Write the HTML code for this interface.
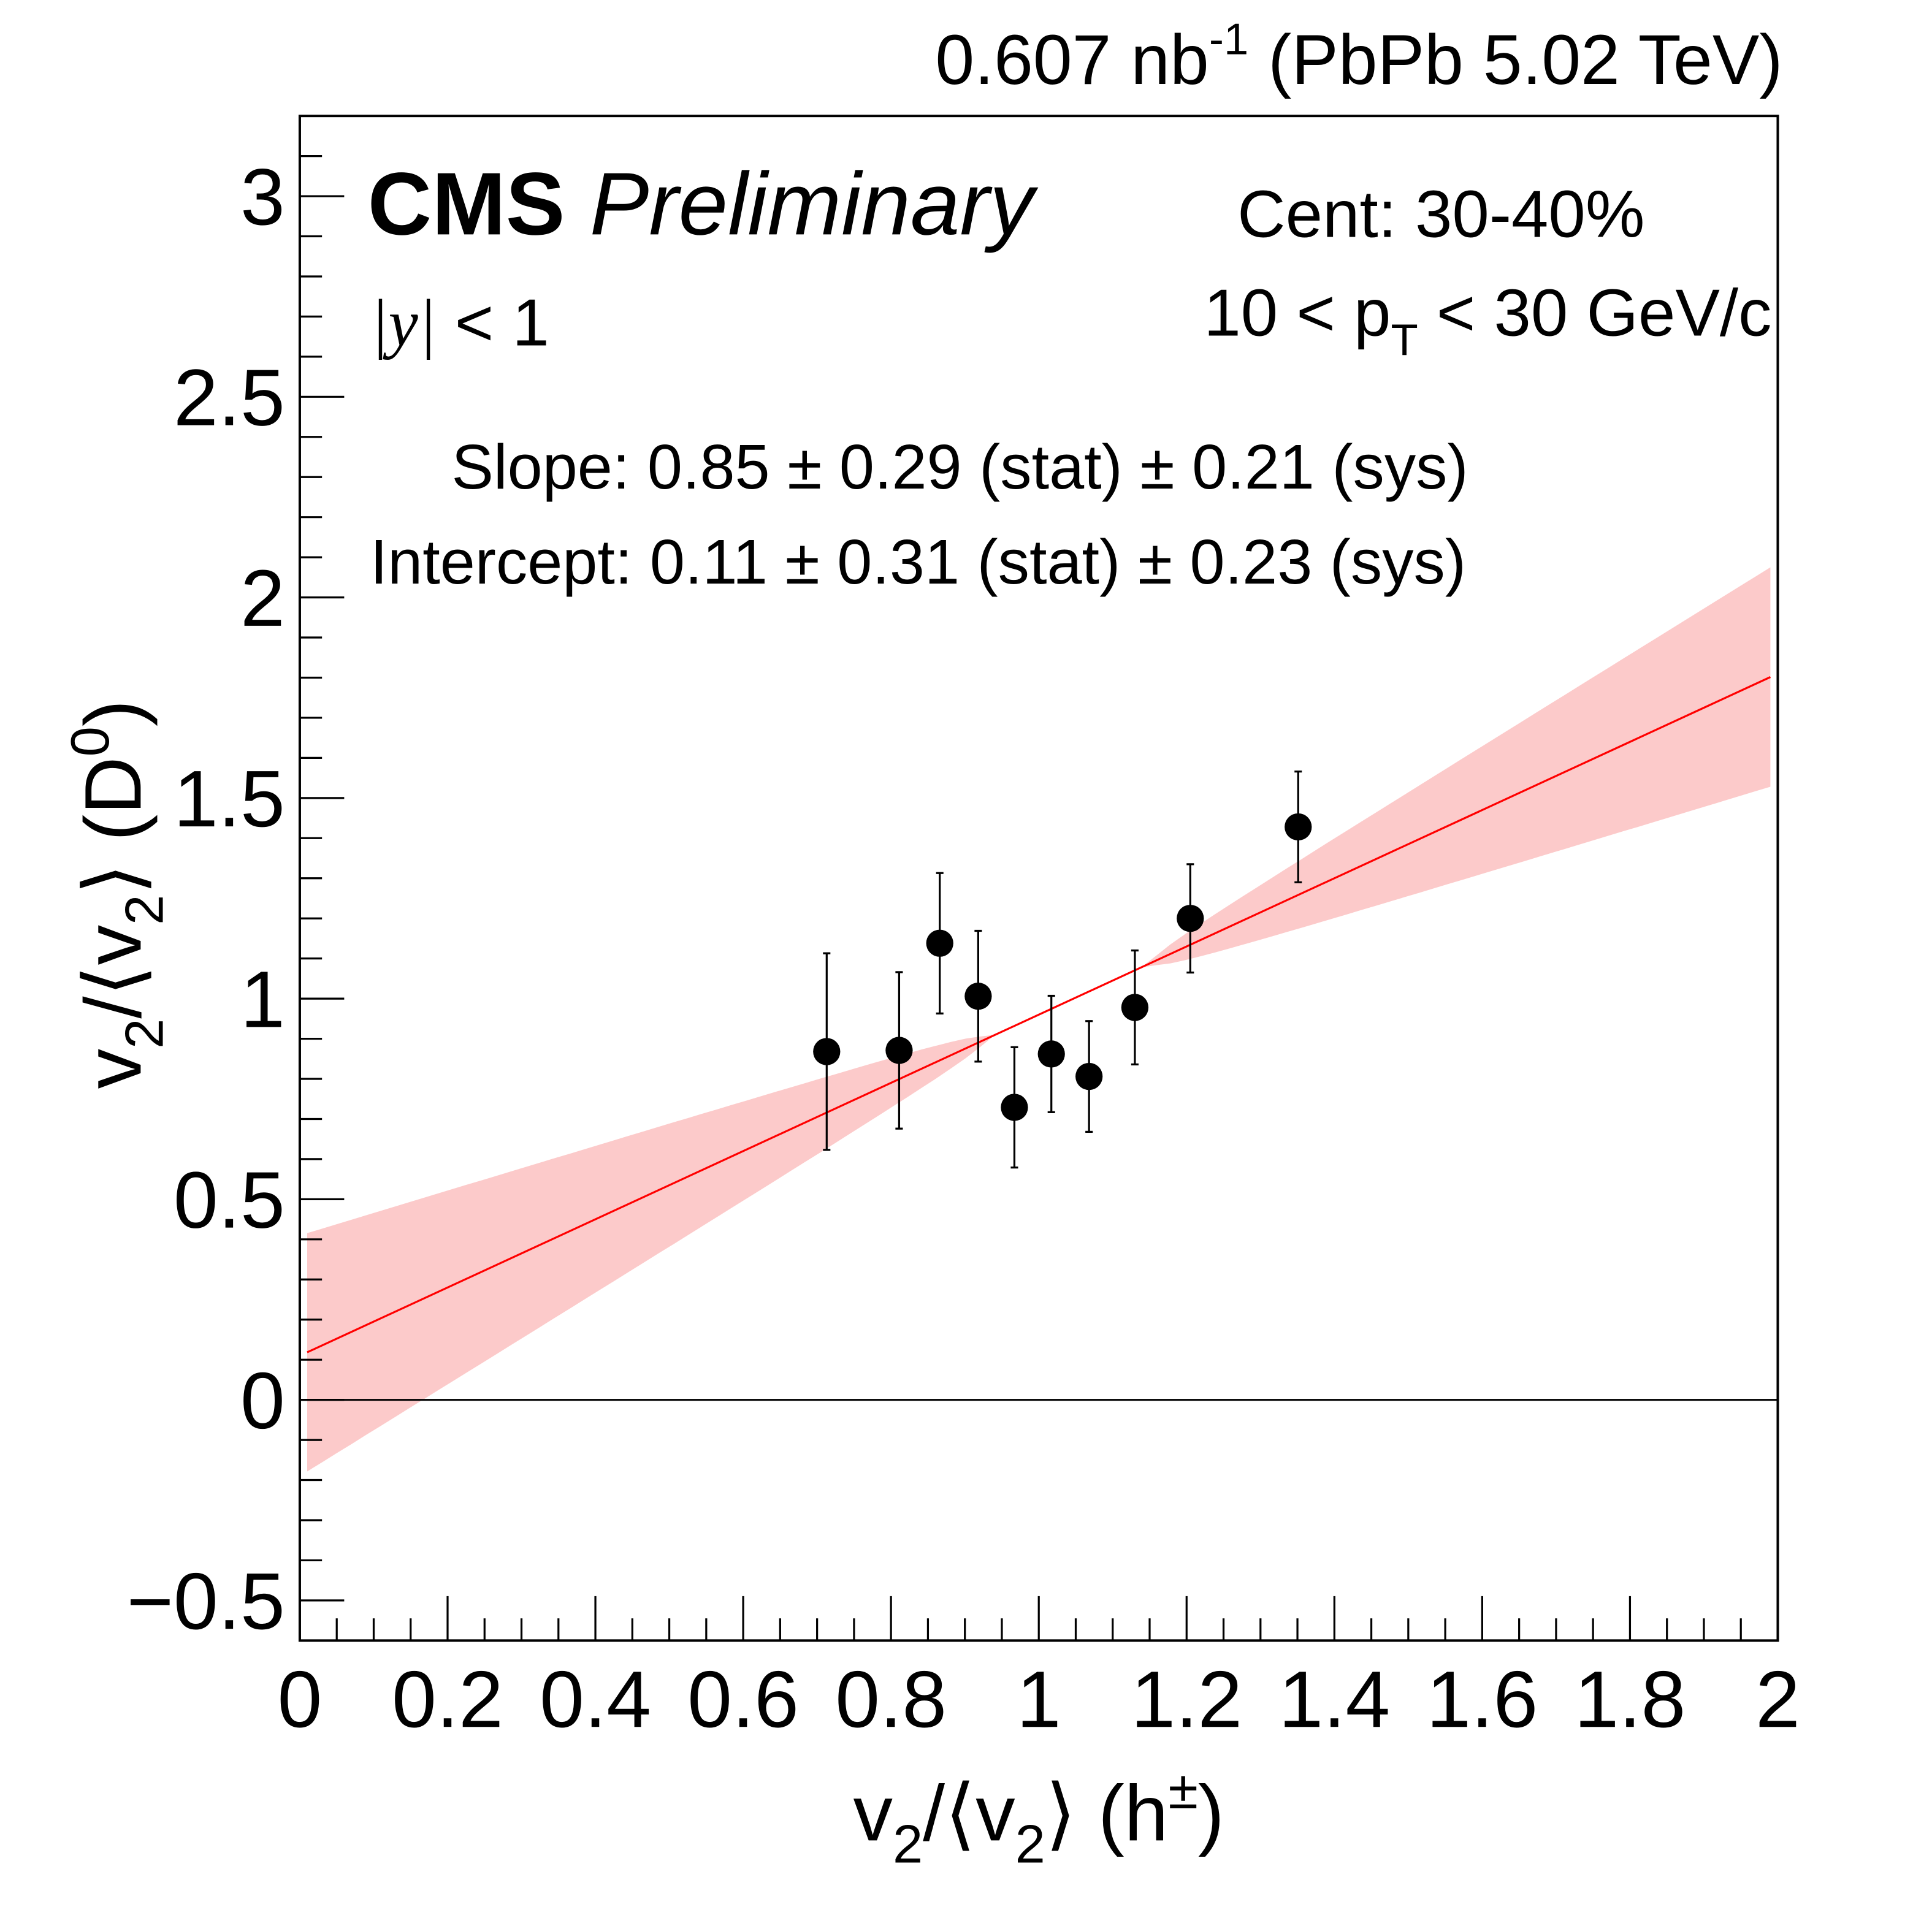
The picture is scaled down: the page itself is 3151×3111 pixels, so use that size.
<!DOCTYPE html>
<html><head><meta charset="utf-8"><style>
html,body{margin:0;padding:0;background:#fff}
svg{display:block;font-family:"Liberation Sans",Arial,sans-serif}
</style></head><body>
<svg id="chart" width="3151" height="3111" viewBox="0 0 1566 1546" preserveAspectRatio="none" xmlns="http://www.w3.org/2000/svg">
<rect x="0" y="0" width="1566" height="1546" fill="#fff"/>
<g id="band-layer"></g>
<g id="marks"></g>
<g id="axes"></g>
<text x="1445" y="68" font-size="57" text-anchor="end">0.607 nb<tspan font-size="36" dy="-24">-1</tspan><tspan dy="24"> (PbPb 5.02 TeV)</tspan></text>
<text x="298" y="190" font-size="72" font-weight="bold">CMS <tspan font-weight="normal" font-style="italic">Preliminary</tspan></text>
<text x="1003" y="192" font-size="54">Cent: 30-40%</text>
<text x="300" y="280" font-size="54"><tspan font-family="Liberation Serif" font-style="italic">|y|</tspan> &lt; 1</text>
<text x="1436" y="272" font-size="54" text-anchor="end">10 &lt; p<tspan font-size="36" dy="16">T</tspan><tspan dy="-16"> &lt; 30 GeV/c</tspan></text>
<text x="366" y="396" font-size="51">Slope: 0.85 ± 0.29 (stat) ± 0.21 (sys)</text>
<text x="300" y="473" font-size="51">Intercept: 0.11 ± 0.31 (stat) ± 0.23 (sys)</text>
<text x="842" y="1492" font-size="64" text-anchor="middle">v<tspan font-size="44" dy="18">2</tspan><tspan dy="-18">/⟨v</tspan><tspan font-size="44" dy="18">2</tspan><tspan dy="-18">⟩ (h</tspan><tspan font-size="44" dy="-26">±</tspan><tspan dy="26">)</tspan></text>
<text transform="translate(114,725) rotate(-90)" font-size="65" text-anchor="middle">v<tspan font-size="44" dy="18">2</tspan><tspan dy="-18">/⟨v</tspan><tspan font-size="44" dy="18">2</tspan><tspan dy="-18">⟩ (D</tspan><tspan font-size="44" dy="-26">0</tspan><tspan dy="26">)</tspan></text>
</svg>
<script>
const xVals=[0.713,0.811,0.866,0.918,0.967,1.017,1.068,1.130,1.205,1.351];
const yVals=[0.868,0.871,1.138,1.006,0.729,0.862,0.806,0.978,1.200,1.428];
const yErrs=[0.245,0.195,0.175,0.163,0.150,0.145,0.138,0.142,0.135,0.138];
const fitSlope=0.85;
const fitIntercept=0.11;
const sigmaIntercept=0.30;
const sigmaSlope=0.29;
const covSI=-0.0875;
const xTickLabels=["0","0.2","0.4","0.6","0.8","1","1.2","1.4","1.6","1.8","2"];
const yTickLabels=["−0.5","0","0.5","1","1.5","2","2.5","3"];
const NS="http://www.w3.org/2000/svg";
const X0=243,X1=1441,Y0=94,Y1=1330,xmin=0,xmax=2,ymin=-0.6,ymax=3.2;
function sx(v){return X0+(v-xmin)/(xmax-xmin)*(X1-X0);}
function sy(v){return Y1-(v-ymin)/(ymax-ymin)*(Y1-Y0);}
function mk(tag,attrs,parent){const e=document.createElementNS(NS,tag);for(const k in attrs)e.setAttribute(k,attrs[k]);parent.appendChild(e);return e;}
const band=document.getElementById('band-layer'),marks=document.getElementById('marks'),axes=document.getElementById('axes');
let up=[],dn=[];
const xa=0.01,xb=1.99;
for(let i=0;i<=100;i++){const x=xa+(xb-xa)*i/100;const v=Math.max(0,sigmaIntercept*sigmaIntercept+2*covSI*x+sigmaSlope*sigmaSlope*x*x);const s=Math.sqrt(v);const m=fitIntercept+fitSlope*x;up.push(sx(x).toFixed(1)+','+sy(m+s).toFixed(1));dn.unshift(sx(x).toFixed(1)+','+sy(m-s).toFixed(1));}
const bp=mk('polygon',{points:up.concat(dn).join(' '),fill:'#fccaca'},band);


const zl=mk('line',{x1:X0,x2:X1,y1:sy(0),y2:sy(0),stroke:'#000','stroke-width':1.5},marks);


const fl=mk('line',{x1:sx(xa),y1:sy(fitIntercept+fitSlope*xa),x2:sx(xb),y2:sy(fitIntercept+fitSlope*xb),stroke:'#f00','stroke-width':1.6},marks);


for(let i=0;i<xVals.length;i++){
 const px=sx(xVals[i]),py=sy(yVals[i]);
 const eb=mk('line',{x1:px,x2:px,y1:sy(yVals[i]+yErrs[i]),y2:sy(yVals[i]-yErrs[i]),stroke:'#000','stroke-width':1.6},marks);
 
 
 for(const e of [yVals[i]+yErrs[i],yVals[i]-yErrs[i]]){const c=mk('line',{x1:px-3,x2:px+3,y1:sy(e),y2:sy(e),stroke:'#000','stroke-width':1.6},marks);
  
  }
 const pt=mk('circle',{cx:px,cy:py,r:11,fill:'#000'},marks);
 
 
}
const fr=mk('rect',{x:X0,y:Y0,width:X1-X0,height:Y1-Y0,fill:'none',stroke:'#000','stroke-width':2},axes);


for(let k=-6;k<=32;k++){const v=k/10;const major=(k%5===0);const y=sy(v);
 const t=mk('line',{x1:X0,x2:X0+(major?36:18),y1:y,y2:y,stroke:'#000','stroke-width':1.6},axes);
 
 }
yTickLabels.forEach((lab,i)=>{const v=-0.5+0.5*i;const t=mk('text',{x:X0-12,y:sy(v)+23,'font-size':65,'text-anchor':'end'},axes);t.textContent=lab;
 
 });
for(let k=0;k<=40;k++){const v=k/20;const major=(k%4===0);const x=sx(v);
 const t=mk('line',{x1:x,x2:x,y1:Y1,y2:Y1-(major?36:18),stroke:'#000','stroke-width':1.6},axes);
 
 }
xTickLabels.forEach((lab,i)=>{const v=0.2*i;const t=mk('text',{x:sx(v),y:1400,'font-size':65,'text-anchor':'middle'},axes);t.textContent=lab;
 
 });
</script>
</body></html>
